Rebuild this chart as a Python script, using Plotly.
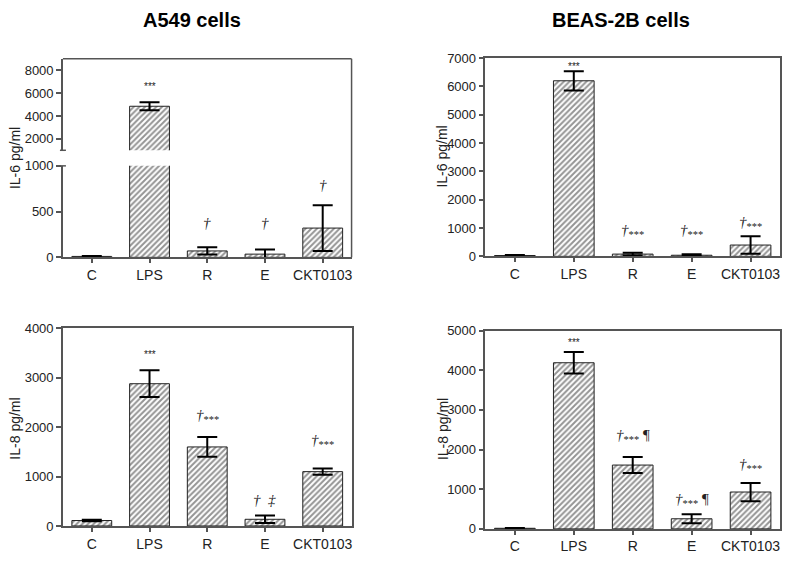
import plotly.graph_objects as go

W, H = 797, 561
OFF = 8  # page body margin

categories = ["C", "LPS", "R", "E", "CKT0103"]

# A549 IL-6
a549_il6 = [10, 4850, 70, 35, 320]
a549_il6_err = [5, 350, 40, 50, 250]
a549_il6_marks = ["", "***", "<i>†</i>", "<i>†</i>", "<i>†</i>"]
a549_il6_mark_y = [0, 6600, 375, 375, 790]

# BEAS-2B IL-6
beas_il6 = [30, 6200, 80, 40, 400]
beas_il6_err = [20, 340, 45, 35, 310]
beas_il6_marks = ["", "***", "<i>†</i><sub>***</sub>", "<i>†</i><sub>***</sub>", "<i>†</i><sub>***</sub>"]
beas_il6_mark_y = [0, 6720, 890, 890, 1180]

# A549 IL-8
a549_il8 = [110, 2880, 1600, 135, 1100]
a549_il8_err = [15, 270, 200, 75, 65]
a549_il8_marks = ["", "***", "<i>†</i><sub>***</sub>", "<i>†</i>  <i>‡</i>", "<i>†</i><sub>***</sub>"]
a549_il8_mark_y = [0, 3475, 2225, 530, 1730]

# BEAS-2B IL-8
beas_il8 = [15, 4190, 1610, 255, 930]
beas_il8_err = [5, 270, 200, 115, 230]
beas_il8_marks = ["", "***", "<i>†</i><sub>***</sub> ¶", "<i>†</i><sub>***</sub> ¶", "<i>†</i><sub>***</sub>"]
beas_il8_mark_y = [0, 4690, 2340, 720, 1600]


def px_x(x):
    return (x - OFF) / W


def px_y(y):
    return 1 - (y - OFF) / H


AX = "#555555"
TXT = "#222222"
FONT = "Liberation Sans, Arial, sans-serif"
SERIF = "Liberation Serif, Times New Roman, serif"


def bar(x, y, err, xa, ya):
    return go.Bar(
        x=x, y=y, xaxis=xa, yaxis=ya,
        marker=dict(color="white", line=dict(color="#222222", width=1),
                    pattern=dict(shape="/", fgcolor="#2a2a2a", bgcolor="white",
                                 size=4, solidity=0.5)),
        error_y=dict(type="data", array=err, visible=True,
                     color="black", thickness=2, width=10),
        showlegend=False, hoverinfo="skip",
    )


fig = go.Figure()

# Top-left (broken axis): lower segment y, upper segment y2, shared x
fig.add_trace(bar(categories, a549_il6,
                  [e if v < 1000 else 0 for v, e in zip(a549_il6, a549_il6_err)], "x", "y"))
fig.add_trace(bar(categories, a549_il6, a549_il6_err, "x", "y2"))
# Top-right
fig.add_trace(bar(categories, beas_il6, beas_il6_err, "x2", "y3"))
# Bottom-left
fig.add_trace(bar(categories, a549_il8, a549_il8_err, "x3", "y4"))
# Bottom-right
fig.add_trace(bar(categories, beas_il8, beas_il8_err, "x4", "y5"))

xax = dict(type="category", showline=True, linecolor=AX, linewidth=1.5,
           ticks="outside", ticklen=4, tickcolor=AX, tickwidth=1.5,
           tickfont=dict(family=FONT, size=14, color=TXT), showgrid=False,
           zeroline=False, fixedrange=True)
yax = dict(showline=True, linecolor=AX, linewidth=1.5, ticks="outside", ticklen=5,
           tickcolor=AX, tickwidth=1.5, tickfont=dict(family=FONT, size=13, color=TXT),
           showgrid=False, zeroline=False, fixedrange=True)

L1, R1 = 63, 352
L2, R2 = 486, 781

fig.update_layout(
    width=W, height=H, margin=dict(l=0, r=0, t=0, b=0),
    paper_bgcolor="white", plot_bgcolor="white", bargap=0.31,
    xaxis=dict(xax, domain=[px_x(L1), px_x(R1)], anchor="y"),
    yaxis=dict(yax, domain=[px_y(257), px_y(163)], range=[0, 1000],
               tickvals=[0, 500, 1000], anchor="x"),
    yaxis2=dict(yax, domain=[px_y(147), px_y(53)], range=[1000, 9000],
                tickvals=[2000, 4000, 6000, 8000], anchor="x"),
    xaxis2=dict(xax, domain=[px_x(L2), px_x(R2)], anchor="y3", mirror=True),
    yaxis3=dict(yax, domain=[px_y(256), px_y(52.3)], range=[0, 7000], dtick=1000,
                anchor="x2", mirror=True),
    xaxis3=dict(xax, domain=[px_x(L1), px_x(R1)], anchor="y4", mirror=True),
    yaxis4=dict(yax, domain=[px_y(533), px_y(330)], range=[0, 4000], dtick=1000,
                anchor="x3", mirror=True),
    xaxis4=dict(xax, domain=[px_x(L2), px_x(R2)], anchor="y5", mirror=True),
    yaxis5=dict(yax, domain=[px_y(536), px_y(332.3)], range=[0, 5000], dtick=1000,
                anchor="x4", mirror=True),
)

shapes = []
# frame top & right for broken-axis panel
shapes.append(dict(type="line", xref="paper", yref="paper", x0=px_x(L1), x1=px_x(R1),
                   y0=px_y(53), y1=px_y(53), line=dict(color=AX, width=1.5)))
shapes.append(dict(type="line", xref="paper", yref="paper", x0=px_x(R1), x1=px_x(R1),
                   y0=px_y(53), y1=px_y(257), line=dict(color=AX, width=1.5)))
# break caps
for yy in (147, 163):
    shapes.append(dict(type="line", xref="paper", yref="paper", x0=px_x(L1 - 3), x1=px_x(L1 + 3),
                       y0=px_y(yy), y1=px_y(yy), line=dict(color=AX, width=1.5)))
fig.update_layout(shapes=shapes)

ann = []


def marks(texts, ys, xref, yref):
    for c, t, yv in zip(categories, texts, ys):
        if not t:
            continue
        if t == "***":
            f = dict(family=FONT, size=10, color="#222222")
        else:
            f = dict(family=SERIF, size=15, color="#222222")
        ann.append(dict(x=c, y=yv, xref=xref, yref=yref, text=t, showarrow=False,
                        yanchor="middle", xanchor="center", font=f))


marks(["", "", a549_il6_marks[2], a549_il6_marks[3], a549_il6_marks[4]], a549_il6_mark_y, "x", "y")
marks(["", a549_il6_marks[1], "", "", ""], a549_il6_mark_y, "x", "y2")
marks(beas_il6_marks, beas_il6_mark_y, "x2", "y3")
marks(a549_il8_marks, a549_il8_mark_y, "x3", "y4")
marks(beas_il8_marks, beas_il8_mark_y, "x4", "y5")

# panel titles
ann.append(dict(x=px_x(192), y=px_y(13), xref="paper", yref="paper", text="<b>A549 cells</b>",
                showarrow=False, xanchor="center", yanchor="middle",
                font=dict(family=FONT, size=20, color="black")))
ann.append(dict(x=px_x(622), y=px_y(13), xref="paper", yref="paper", text="<b>BEAS-2B cells</b>",
                showarrow=False, xanchor="center", yanchor="middle",
                font=dict(family=FONT, size=20, color="black")))
# axis titles
for xp, yp, t in [(15, 155, "IL-6 pg/ml"), (443, 153, "IL-6 pg/ml"),
                  (15, 433, "IL-8 pg/ml"), (443, 433, "IL-8 pg/ml")]:
    ann.append(dict(x=px_x(xp), y=px_y(yp), xref="paper", yref="paper", text=t, textangle=-90,
                    showarrow=False, xanchor="center", yanchor="middle",
                    font=dict(family=FONT, size=14, color=TXT)))

fig.update_layout(annotations=ann)
fig.write_html("out.html")
